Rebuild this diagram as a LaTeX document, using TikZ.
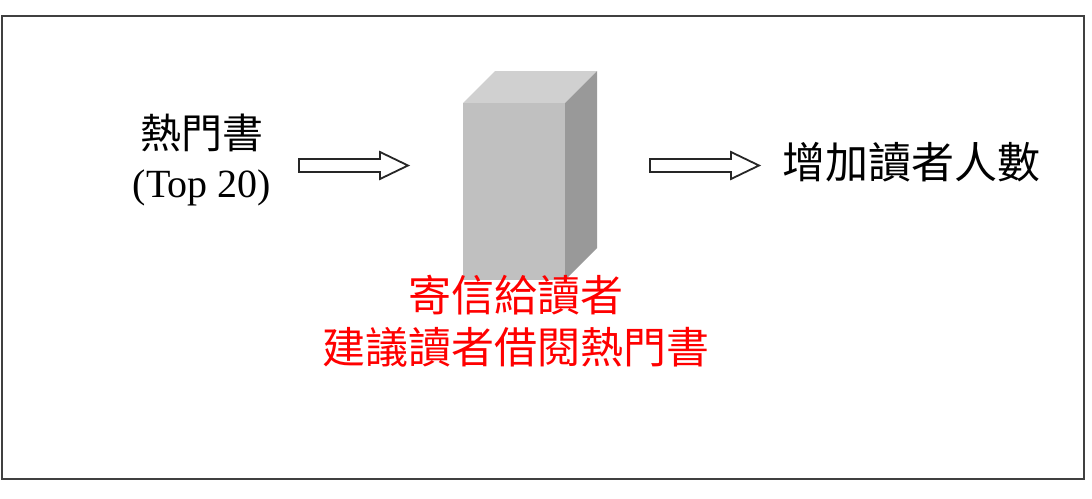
\documentclass[tikz,border=0pt]{standalone}
\usepackage{fontspec}
\setmainfont{Liberation Serif}
\newfontfamily\cjk{Noto Sans CJK TC}
\definecolor{frontgray}{HTML}{C0C0C0}
\definecolor{topgray}{HTML}{D0D0D0}
\definecolor{sidegray}{HTML}{999999}
\tikzset{
  blockarrow/.style={draw=black!85, line width=1.8pt, fill=white, line join=miter},
  cjktext/.style={font=\cjk\fontsize{43}{52}\selectfont, align=center, inner sep=0pt},
  redtext/.style={cjktext, text=red},
}
\begin{document}
\begin{tikzpicture}[x=1pt,y=-1pt]
\useasboundingbox (0,0) rectangle (1092,498);
\draw[line width=2pt, draw=black!75] (2,16) rectangle (1084,479);
% cube
\fill[topgray] (463,103) -- (495,71) -- (597,71) -- (565,103) -- cycle;
\fill[sidegray] (565,103) -- (597,71) -- (597,248) -- (565,280) -- cycle;
\fill[frontgray] (463,103) rectangle (565,280);
% texts
\node[cjktext, font=\cjk\fontsize{41}{52}\selectfont] (hot) at (202,133) {熱門書};
\node[font=\fontsize{40}{48}\selectfont, inner sep=0pt] (top) at (202,188) {(Top 20)};
\node[cjktext, anchor=west] (inc) at (782,162) {增加讀者人數};
\node[redtext] (mail) at (516,321) {寄信給讀者\\建議讀者借閱熱門書};
% arrows
\draw[blockarrow] (299,159) -- (380,159) -- (380,152) -- (408,165.5) -- (380,179) -- (380,172) -- (299,172) -- cycle;
\draw[blockarrow] (650,159) -- (731,159) -- (731,152) -- (759,165.5) -- (731,179) -- (731,172) -- (650,172) -- cycle;
\end{tikzpicture}
\end{document}
